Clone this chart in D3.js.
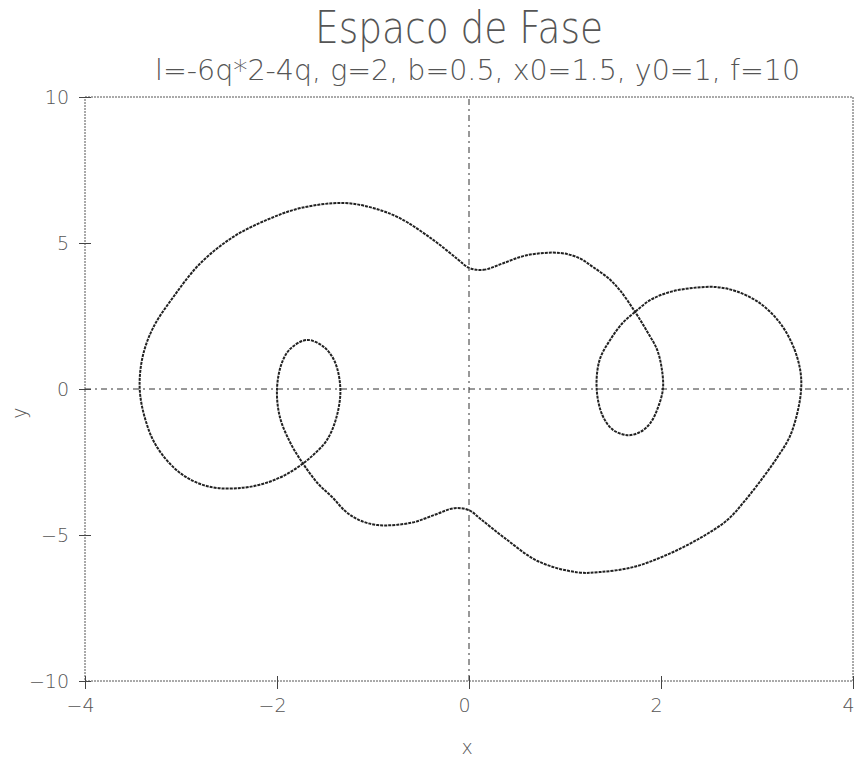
<!DOCTYPE html>
<html>
<head>
<meta charset="utf-8">
<script src="https://cdn.jsdelivr.net/npm/d3@7/dist/d3.min.js"></script>
<style>
  html, body { margin: 0; padding: 0; background: #fff; }
  svg { display: block; }
  text { font-family: "DejaVu Sans", sans-serif; font-weight: 200; fill: #555; }
</style>
</head>
<body>
<script>
// Phase-space orbit: position q (x) against velocity p (y), traced in order.
const qValues = [
  0.00, 0.15, 0.35, 0.60, 0.95, 1.15, 1.29, 1.45, 1.57, 1.73, 1.85, 1.96, 2.01, 2.02,
  1.97, 1.89, 1.78, 1.65, 1.50, 1.39, 1.33, 1.36, 1.47, 1.60, 1.73, 1.89, 2.09, 2.33,
  2.58, 2.79, 3.03, 3.24, 3.38, 3.45, 3.46, 3.42, 3.34, 3.22, 3.07, 2.88, 2.69, 2.41,
  2.06, 1.71, 1.36, 1.13, 0.72, 0.37, 0.12,
  0.00, -0.15, -0.35, -0.60, -0.95, -1.15, -1.29, -1.42, -1.57, -1.73, -1.86, -1.97, -2.00,
  -1.95, -1.86, -1.69, -1.52, -1.40, -1.34, -1.38, -1.48, -1.61, -1.73, -1.90, -2.10, -2.35,
  -2.70, -3.00, -3.25, -3.37, -3.43, -3.40, -3.29, -3.08, -2.80, -2.46, -2.10, -1.75, -1.31,
  -1.00, -0.72, -0.37, -0.12
];
const pValues = [
  4.15, 4.08, 4.30, 4.58, 4.66, 4.48, 4.18, 3.80, 3.39, 2.64, 2.00, 1.34, 0.65, 0.00,
  -0.62, -1.16, -1.48, -1.58, -1.40, -0.90, 0.00, 0.99, 1.68, 2.26, 2.64, 3.05, 3.32, 3.46,
  3.49, 3.34, 2.94, 2.26, 1.44, 0.65, 0.00, -0.82, -1.64, -2.30, -3.00, -3.80, -4.49, -5.10,
  -5.68, -6.10, -6.27, -6.28, -5.90, -5.10, -4.45,
  -4.15, -4.08, -4.30, -4.58, -4.66, -4.48, -4.18, -3.72, -3.25, -2.55, -1.85, -0.96, 0.00,
  0.89, 1.38, 1.68, 1.46, 0.95, 0.00, -0.96, -1.75, -2.22, -2.55, -2.92, -3.20, -3.38,
  -3.35, -2.90, -1.99, -1.06, 0.00, 1.10, 2.10, 3.15, 4.30, 5.20, 5.80, 6.20, 6.37,
  6.20, 5.85, 5.10, 4.45
];

const xTicks = [-4, -2, 0, 2, 4];
const yTicks = [-10, -5, 0, 5, 10];
const titleText = "Espaco de Fase";
const subtitleText = "l=-6q*2-4q, g=2, b=0.5, x0=1.5, y0=1, f=10";
const xLabel = "x";
const yLabel = "y";

const W = 858, H = 762;
const margin = { left: 85, right: 5, top: 97, bottom: 81 };

const svg = d3.select("body").append("svg").attr("width", W).attr("height", H);

const x = d3.scaleLinear().domain([-4, 4]).range([margin.left, W - margin.right]);
const y = d3.scaleLinear().domain([-10, 10]).range([H - margin.bottom, margin.top]);

// Plot frame (dotted)
svg.append("rect")
  .attr("x", x(-4)).attr("y", y(10))
  .attr("width", x(4) - x(-4)).attr("height", y(-10) - y(10))
  .attr("fill", "none").attr("stroke", "#555").attr("stroke-width", 1)
  .attr("stroke-dasharray", "2 1");

// Zero lines (dash-dot)
const zero = svg.append("g").attr("stroke", "#333").attr("stroke-width", 1)
  .attr("stroke-dasharray", "6 4 2 4");
zero.append("line").attr("x1", x(-4)).attr("x2", x(4)).attr("y1", y(0)).attr("y2", y(0));
zero.append("line").attr("x1", x(0)).attr("x2", x(0)).attr("y1", y(-10)).attr("y2", y(10));

// Axes
const fmt = d => d < 0 ? "\u2212" + Math.abs(d) : d;
const xAxis = d3.axisBottom(x).tickValues(xTicks).tickSizeInner(8).tickSizeOuter(0).tickPadding(10)
  .tickFormat(fmt);
const gx = svg.append("g").attr("transform", `translate(0,${y(-10)})`).call(xAxis);
gx.select(".domain").remove();
gx.selectAll(".tick line").attr("stroke", "#444").attr("y1", -5);
gx.selectAll(".tick text").attr("font-size", 19).attr("dx", -5).attr("fill", "#555");

const yAxis = d3.axisLeft(y).tickValues(yTicks).tickSizeInner(6).tickSizeOuter(0).tickPadding(10)
  .tickFormat(fmt);
const gy = svg.append("g").attr("transform", `translate(${x(-4)},0)`).call(yAxis);
gy.select(".domain").remove();
gy.selectAll(".tick line").attr("stroke", "#444").attr("x1", 6);
gy.selectAll(".tick text").attr("font-size", 19).attr("fill", "#555");
svg.selectAll("g[font-family]").attr("font-family", null);

// Orbit
const pts = qValues.map((q, i) => [q, pValues[i]]);
const line = d3.line().x(d => x(d[0])).y(d => y(d[1])).curve(d3.curveCatmullRomClosed.alpha(0.5));
svg.append("path").datum(pts)
  .attr("d", line)
  .attr("fill", "none")
  .attr("stroke", "#222")
  .attr("stroke-width", 2)
  .attr("stroke-dasharray", "3 1");

// Titles and axis labels
svg.append("text").attr("x", 315).attr("y", 43)
  .attr("font-size", 44).attr("textLength", 288).attr("lengthAdjust", "spacingAndGlyphs")
  .text(titleText);
svg.append("text").attr("x", 155).attr("y", 80)
  .attr("font-size", 28).attr("textLength", 645).attr("lengthAdjust", "spacingAndGlyphs")
  .text(subtitleText);
svg.append("text").attr("x", 467).attr("y", 754).attr("text-anchor", "middle")
  .attr("font-size", 19).text(xLabel);
svg.append("text").attr("transform", "translate(26,413) rotate(-90)").attr("text-anchor", "middle")
  .attr("font-size", 19).text(yLabel);
</script>
</body>
</html>
